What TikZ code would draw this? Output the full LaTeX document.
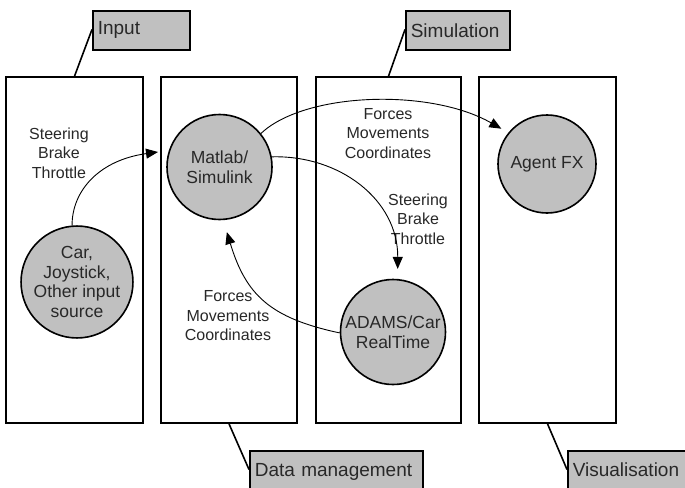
\documentclass[tikz,border=0pt]{standalone}
\usepackage{fontspec}
\setmainfont{Liberation Sans}
\usepackage{tikz}
\usetikzlibrary{arrows.meta, positioning}
\definecolor{unitgray}{RGB}{192, 192, 192}
\definecolor{inkgray}{RGB}{40, 40, 40}

\begin{document}
\begin{tikzpicture}[
    x=1pt, y=-1pt,
    panel/.style={rectangle, draw, line width=1.6pt, minimum width=#1, minimum height=346pt, inner sep=0pt},
    tag/.style={rectangle, draw, fill=unitgray, line width=1.6pt, anchor=north west, text width=#1, minimum height=39pt, inner xsep=5pt, align=left, text=inkgray, font=\fontsize{19}{22}\selectfont},
    lowtag/.style={tag=#1, minimum height=50pt, text depth=12pt},
    unit/.style={circle, draw, fill=unitgray, line width=1.6pt, minimum size=#1, inner sep=0pt, align=center, text=inkgray, font=\fontsize{17.5}{19.5}\selectfont},
    flow/.style={align=center, text=inkgray, font=\fontsize{16}{19.5}\selectfont},
    arr/.style={-{Triangle[length=12pt, width=10pt]}, line width=0.9pt},
    lead/.style={line width=1.6pt}
]
\useasboundingbox (0,0) rectangle (685,487);

% Columns
\node[panel=137pt] (p1) at (74.5, 250) {};
\node[panel=136pt] (p2) at (229, 250) {};
\node[panel=145pt] (p3) at (388.5, 250) {};
\node[panel=137pt] (p4) at (547.5, 250) {};

% Column tags (bottom ones run off the page)
\node[tag=87pt] (tin) at (92, 10) {Input};
\node[tag=94pt] (tsim) at (405, 10) {Simulation};
\node[lowtag=163pt] (tdata) at (249, 450) {Data management};
\node[lowtag=120pt] (tvis) at (567, 450) {Visualisation};

\foreach \a/\b in {p1.north/tin, p2.south/tdata, p3.north/tsim, p4.south/tvis} {
    \draw[lead] (\a) -- ([yshift=-19.5pt]\b.north west);
}

% Units
\node[unit=103pt] (car) at (77, 282) {Car,\\Joystick,\\Other input\\source};
\node[unit=105pt] (mat) at (219.5, 167) {Matlab/\\Simulink};
\node[unit=105pt] (adams) at (393, 332) {ADAMS/Car\\RealTime};
\node[unit=98pt] (fx) at (547, 164) {Agent FX};

% Signals
\node[flow] (sbt1) at (59, 153) {Steering\\Brake\\Throttle};
\node[flow] (fmc1) at (388, 133.5) {Forces\\Movements\\Coordinates};
\node[flow] (sbt2) at (418, 219) {Steering\\Brake\\Throttle};
\node[flow] (fmc2) at (228, 316) {Forces\\Movements\\Coordinates};

\coordinate (matin) at (158, 152);
\draw[arr] (car.95) .. controls (72, 190) and (100, 160) .. (matin);
\draw[arr, shorten >=8pt] (mat.39) .. controls (305, 92) and (430, 88) .. (fx.141);
\draw[arr, shorten >=10pt] (mat.11) .. controls (340, 155) and (398, 200) .. (adams.85);
\draw[arr, shorten >=12.5pt] (adams.181) .. controls (270, 318) and (246, 295) .. (mat.-86);

\end{tikzpicture}
\end{document}
